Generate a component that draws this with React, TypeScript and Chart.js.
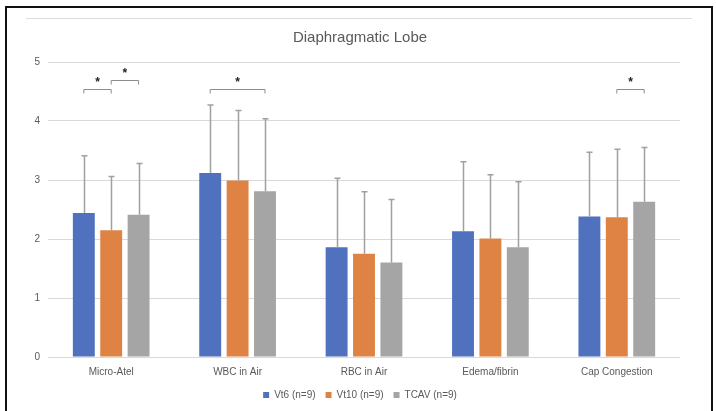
import React, { useEffect, useRef } from "react";
import { Chart, registerables } from "chart.js";

Chart.register(...registerables);

const categories = ["Micro-Atel", "WBC in Air", "RBC in Air", "Edema/fibrin", "Cap Congestion"];
const seriesNames = ["Vt6 (n=9)", "Vt10 (n=9)", "TCAV (n=9)"];
const vt6 = [2.44, 3.12, 1.86, 2.13, 2.38];
const vt10 = [2.15, 2.99, 1.75, 2.01, 2.37];
const tcav = [2.41, 2.81, 1.6, 1.86, 2.63];
const vt6Err = [0.97, 1.15, 1.17, 1.18, 1.09];
const vt10Err = [0.91, 1.19, 1.05, 1.08, 1.15];
const tcavErr = [0.87, 1.23, 1.07, 1.11, 0.92];
const seriesColors = ["#4F71BE", "#DE8344", "#A5A5A5"];
const yMin = 0;
const yMax = 5;
const yStep = 1;
// significance brackets: category index, from series, to series, y level
const bracketCats = [0, 0, 1, 4];
const bracketFrom = [0, 1, 0, 1];
const bracketTo = [1, 2, 2, 2];
const bracketLevels = [4.54, 4.69, 4.54, 4.55];
const bracketMarks = ["*", "*", "*", "*"];

const FONT = "'Liberation Sans', Arial, sans-serif";
const TEXT = "#595959";

const errorBarPlugin = {
  id: "errorBars",
  afterDatasetsDraw(chart: any) {
    const ctx = chart.ctx;
    const y = chart.scales.y;
    const errs = [vt6Err, vt10Err, tcavErr];
    ctx.save();
    ctx.strokeStyle = "#A0A0A0";
    ctx.lineWidth = 1.5;
    chart.data.datasets.forEach((ds: any, i: number) => {
      const meta = chart.getDatasetMeta(i);
      meta.data.forEach((el: any, j: number) => {
        const v = ds.data[j];
        const top = y.getPixelForValue(v + errs[i][j]);
        const x = Math.round(el.x) + 0.5;
        ctx.beginPath();
        ctx.moveTo(x, el.y);
        ctx.lineTo(x, top);
        ctx.moveTo(x - 3, top);
        ctx.lineTo(x + 3, top);
        ctx.stroke();
      });
    });
    ctx.restore();
  },
};

const bracketPlugin = {
  id: "brackets",
  afterDatasetsDraw(chart: any) {
    const ctx = chart.ctx;
    const y = chart.scales.y;
    ctx.save();
    bracketCats.forEach((cat, k) => {
      const x1 = chart.getDatasetMeta(bracketFrom[k]).data[cat].x;
      const x2 = chart.getDatasetMeta(bracketTo[k]).data[cat].x;
      const py = Math.round(y.getPixelForValue(bracketLevels[k])) + 0.5;
      ctx.strokeStyle = "#8C8C8C";
      ctx.lineWidth = 1;
      ctx.beginPath();
      ctx.moveTo(x1, py + 4);
      ctx.lineTo(x1, py);
      ctx.lineTo(x2, py);
      ctx.lineTo(x2, py + 4);
      ctx.stroke();
      ctx.fillStyle = "#222222";
      ctx.font = `bold 12px ${FONT}`;
      ctx.textAlign = "center";
      ctx.textBaseline = "middle";
      ctx.fillText(bracketMarks[k], (x1 + x2) / 2, py - 7);
    });
    ctx.restore();
  },
};

function ChartCanvas() {
  const ref = useRef<HTMLCanvasElement>(null);
  useEffect(() => {
    if (!ref.current) return;
    const chart = new Chart(ref.current, {
      type: "bar",
      data: {
        labels: categories,
        datasets: [vt6, vt10, tcav].map((d, i) => ({
          label: seriesNames[i],
          data: d,
          backgroundColor: seriesColors[i],
          borderWidth: 0,
          categoryPercentage: 0.65,
          barPercentage: 0.8,
        })),
      },
      options: {
        responsive: false,
        animation: false,
        layout: { padding: { left: 20, right: 16, top: 0, bottom: 1 } },
        plugins: {
          title: {
            display: true,
            text: "Diaphragmatic Lobe",
            color: TEXT,
            font: { family: FONT, size: 15, weight: "normal" },
            padding: { top: 29, bottom: 15 },
          },
          legend: {
            position: "bottom",
            labels: {
              color: TEXT,
              font: { family: FONT, size: 10 },
              boxWidth: 6,
              boxHeight: 6,
              padding: 10,
            },
          },
          tooltip: { enabled: false },
        },
        scales: {
          x: {
            grid: { display: false, drawTicks: false },
            border: { display: false },
            ticks: { color: TEXT, font: { family: FONT, size: 10 }, padding: 9 },
            afterFit: (s: any) => {
              s.height = 23;
            },
          },
          y: {
            min: yMin,
            max: yMax,
            ticks: { stepSize: yStep, color: TEXT, font: { family: FONT, size: 10 }, padding: 8 },
            grid: { color: "#D9D9D9", lineWidth: 1, drawTicks: false },
            border: { display: false },
            afterFit: (s: any) => {
              s.width = 28;
            },
          },
          y2: {
            position: "right",
            min: yMin,
            max: yMax,
            ticks: { display: false },
            grid: { display: false, drawTicks: false },
            border: { display: false },
            afterFit: (s: any) => {
              s.width = 20;
            },
          },
        },
      },
      plugins: [errorBarPlugin, bracketPlugin],
    } as any);
    return () => chart.destroy();
  }, []);
  return <canvas ref={ref} width={716} height={411} style={{ position: "absolute", left: 0, top: 0, width: 716, height: 411 }} />;
}

export default function App() {
  return (
    <div style={{ position: "fixed", left: 0, top: 0, width: 716, height: 411, overflow: "hidden", background: "#fff" }}>
      <ChartCanvas />
      <div style={{ position: "absolute", left: 26, top: 18, width: 666, height: 1, background: "#DCDCDC" }} />
      <div
        style={{
          position: "absolute",
          left: 5,
          top: 6,
          width: 704,
          height: 420,
          borderLeft: "2px solid #111",
          borderTop: "2px solid #111",
          borderRight: "2px solid #111",
          pointerEvents: "none",
        }}
      />
    </div>
  );
}
